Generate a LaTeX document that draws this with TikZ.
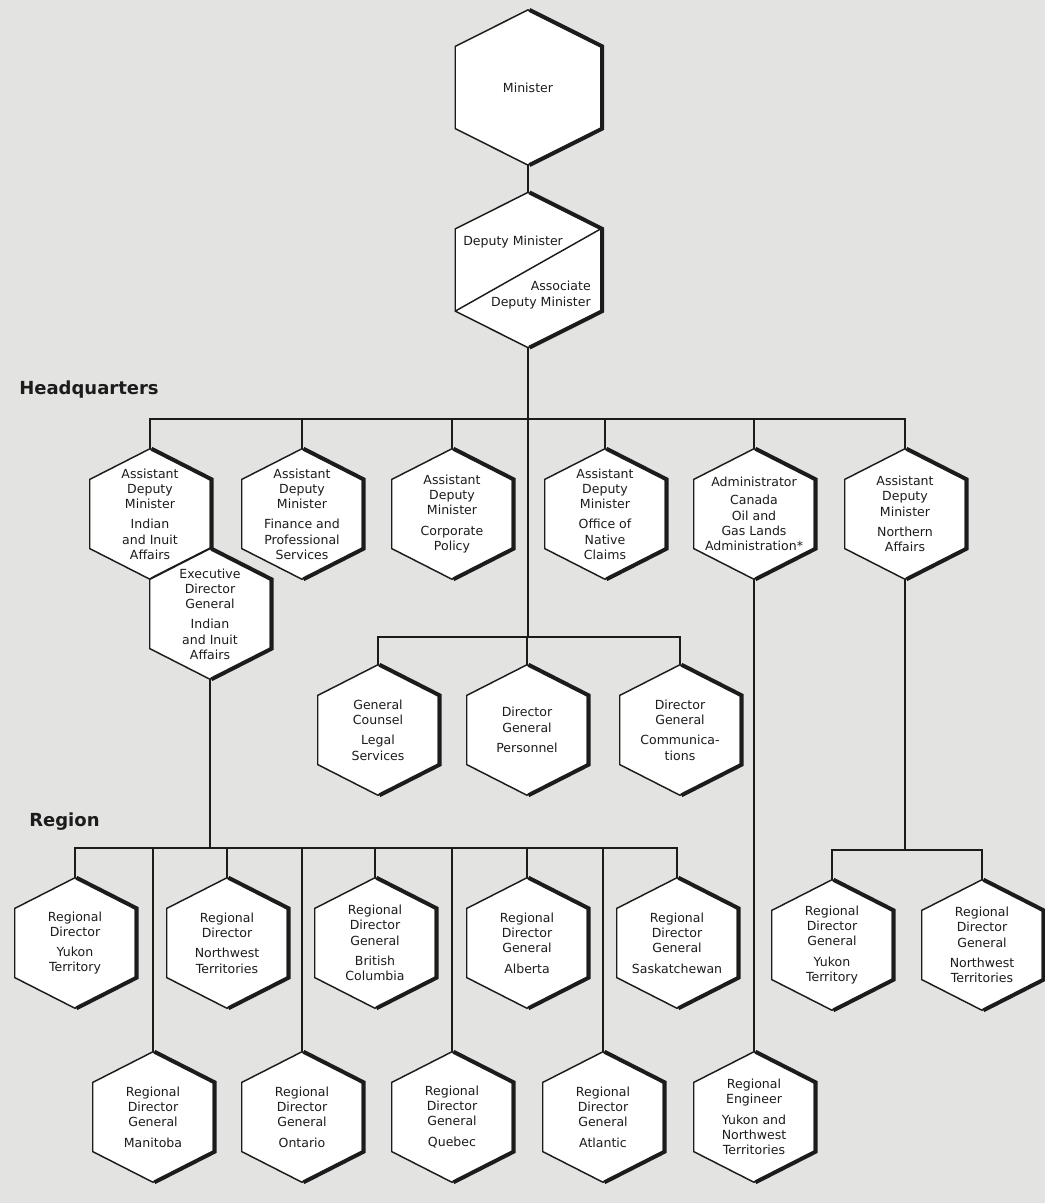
\documentclass[tikz,border=0pt]{standalone}
\usepackage{fontspec}
\setmainfont{DejaVu Sans}
\usetikzlibrary{calc,backgrounds}
\definecolor{orgInk}  {HTML}{1C1C1C}
\definecolor{orgPaper}{HTML}{E3E3E1}
\newcommand{\hexfont}{\fontsize{9.4}{11.4}\selectfont}
% white hexagon with a heavy right-hand edge, drawn behind the node text
\newcommand{\hexframe}[1]{%
  \begin{pgfonlayer}{background}
    \filldraw[hexline] (#1.north)
      -- ($(#1.north east)!.235!(#1.south east)$)
      -- ($(#1.north east)!.765!(#1.south east)$)
      -- (#1.south)
      -- ($(#1.north west)!.765!(#1.south west)$)
      -- ($(#1.north west)!.235!(#1.south west)$) -- cycle;
    \draw[hexshade] (#1.north)
      -- ($(#1.north east)!.235!(#1.south east)$)
      -- ($(#1.north east)!.765!(#1.south east)$)
      -- (#1.south);
  \end{pgfonlayer}}

\begin{document}
\begin{tikzpicture}[x=0.75pt,y=-0.75pt,
    hexbox/.style={minimum width=90pt,minimum height=97.5pt,inner sep=0pt,
                   align=center,font=\hexfont,text=orgInk},
    bighex/.style={hexbox,minimum width=108.75pt,minimum height=116pt},
    hexline/.style={draw=orgInk,fill=white,line width=1.1pt,line join=miter},
    hexshade/.style={draw=orgInk,line width=3pt,line join=miter,
                     transform canvas={xshift=1.1pt}},
    link/.style={draw=orgInk,line width=1.1pt},
    section/.style={font=\fontsize{13.5}{16}\selectfont\bfseries,
                    text=orgInk,anchor=west,inner sep=0pt}]
  \useasboundingbox (0,0) rectangle (1045,1203);
  \begin{pgfonlayer}{background}
    \fill[orgPaper] (0,0) rectangle (1045,1203);
  \end{pgfonlayer}

  % top of the department
  \node[bighex] (minister) at (528,87.5) {Minister};
  \node[bighex] (deputy)   at (528,270)  {};
  \node[anchor=west,font=\hexfont,text=orgInk,inner sep=0pt] (dmtext) at (463,242) {Deputy Minister};
  \node[anchor=east,align=right,font=\hexfont,text=orgInk,inner sep=0pt] (assoctext) at (591,295)
       {Associate\\Deputy Minister};

  \node[section] (hqlabel)  at (19,390) {Headquarters};
  \node[section] (reglabel) at (29,822) {Region};

  % headquarters
  \node[hexbox] (adminuit)  at (150,514) {Assistant\\Deputy\\Minister\\[4pt]Indian\\and Inuit\\Affairs};
  \node[hexbox] (admfinance) at (302,514) {Assistant\\Deputy\\Minister\\[4pt]Finance and\\Professional\\Services};
  \node[hexbox] (admpolicy) at (452,514) {Assistant\\Deputy\\Minister\\[4pt]Corporate\\Policy};
  \node[hexbox] (admclaims) at (605,514) {Assistant\\Deputy\\Minister\\[4pt]Office of\\Native\\Claims};
  \node[hexbox] (cogla)     at (754,514) {Administrator\\[2pt]Canada\\Oil and\\Gas Lands\\Administration*};
  \node[hexbox] (admnorth)  at (905,514) {Assistant\\Deputy\\Minister\\[4pt]Northern\\Affairs};
  \node[hexbox] (execdg)    at (210,614) {Executive\\Director\\General\\[4pt]Indian\\and Inuit\\Affairs};

  \node[hexbox] (counsel)   at (378,730) {General\\Counsel\\[4pt]Legal\\Services};
  \node[hexbox] (personnel) at (527,730) {Director\\General\\[4pt]Personnel};
  \node[hexbox] (comms)     at (680,730) {Director\\General\\[4pt]Communica-\\tions};

  % regions
  \node[hexbox] (rdyukon) at (75,943)  {Regional\\Director\\[4pt]Yukon\\Territory};
  \node[hexbox] (rdnwt)   at (227,943) {Regional\\Director\\[4pt]Northwest\\Territories};
  \node[hexbox] (rdbc)    at (375,943) {Regional\\Director\\General\\[4pt]British\\Columbia};
  \node[hexbox] (rdab)    at (527,943) {Regional\\Director\\General\\[4pt]Alberta};
  \node[hexbox] (rdsk)    at (677,943) {Regional\\Director\\General\\[4pt]Saskatchewan};
  \node[hexbox] (rdgyukon) at (832,945) {Regional\\Director\\General\\[4pt]Yukon\\Territory};
  \node[hexbox] (rdgnwt)   at (982,945) {Regional\\Director\\General\\[4pt]Northwest\\Territories};

  \node[hexbox] (rdmb)    at (153,1117) {Regional\\Director\\General\\[4pt]Manitoba};
  \node[hexbox] (rdon)    at (302,1117) {Regional\\Director\\General\\[4pt]Ontario};
  \node[hexbox] (rdqc)    at (452,1117) {Regional\\Director\\General\\[4pt]Quebec};
  \node[hexbox] (rdatl)   at (603,1117) {Regional\\Director\\General\\[4pt]Atlantic};
  \node[hexbox] (engineer) at (754,1117) {Regional\\Engineer\\[4pt]Yukon and\\Northwest\\Territories};

  \foreach \n in {minister,deputy,adminuit,admfinance,admpolicy,admclaims,cogla,admnorth,
                  counsel,personnel,comms,rdyukon,rdnwt,rdbc,rdab,rdsk,rdgyukon,rdgnwt,
                  rdmb,rdon,rdqc,rdatl,engineer,execdg}
    \hexframe{\n};
  \draw[orgInk,line width=1.1pt] ($(deputy.north east)!.235!(deputy.south east)$)
    -- ($(deputy.north west)!.765!(deputy.south west)$);

  % bus lines
  \coordinate (hqbus)    at (528,419);
  \coordinate (staffbus) at (528,637);
  \coordinate (regbus)   at (210,848);
  \coordinate (northbus) at (905,850);

  \draw[link] (minister.south) -- (deputy.north);
  \draw[link] (deputy.south) -- (staffbus);
  \foreach \n in {adminuit,admfinance,admpolicy,admclaims,cogla,admnorth}
    \draw[link] (\n.north) |- (hqbus);
  \foreach \n in {counsel,personnel,comms}
    \draw[link] (\n.north) |- (staffbus);
  \draw[link] (execdg.south) -- (regbus);
  \foreach \n in {rdyukon,rdnwt,rdbc,rdab,rdsk,rdmb,rdon,rdqc,rdatl}
    \draw[link] (\n.north) |- (regbus);
  \draw[link] (admnorth.south) -- (northbus);
  \foreach \n in {rdgyukon,rdgnwt}
    \draw[link] (\n.north) |- (northbus);
  \draw[link] (cogla.south) -- (engineer.north);
\end{tikzpicture}
\end{document}
